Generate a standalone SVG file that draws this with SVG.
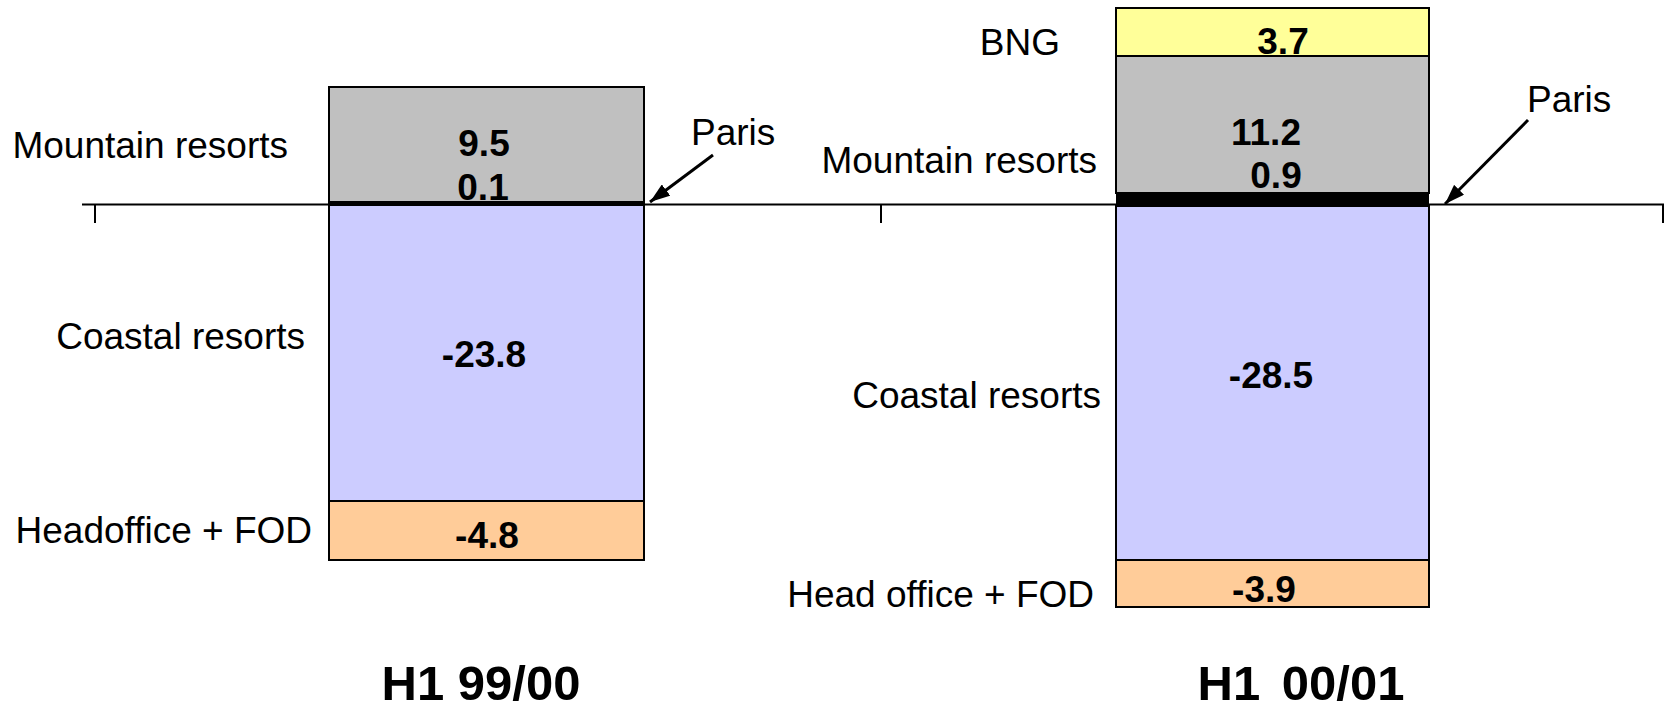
<svg xmlns="http://www.w3.org/2000/svg" width="1665" height="708" viewBox="0 0 1665 708">
<style>
.lbl{font-family:"Liberation Sans",Arial,sans-serif;font-size:37px;fill:#000}
.val{font-family:"Liberation Sans",Arial,sans-serif;font-size:37px;font-weight:bold;fill:#000;text-anchor:middle}
.ttl{font-family:"Liberation Sans",Arial,sans-serif;font-size:49px;font-weight:bold;fill:#000;text-anchor:middle}
.seg{stroke:#000;stroke-width:2}
.axis{stroke:#000;stroke-width:2;fill:none}
.arr{stroke:#000;stroke-width:3}
</style>
<defs>
<marker id="ah" viewBox="0 0 10 10" refX="10" refY="5" markerWidth="20" markerHeight="14" markerUnits="userSpaceOnUse" orient="auto" preserveAspectRatio="none">
<path d="M0,0 L10,5 L0,10 z" fill="#000"/>
</marker>
</defs>
<rect width="1665" height="708" fill="#fff"/>
<g id="axis">
<path class="axis" d="M82,204.5 H1664 M95,204.5 V223 M881,204.5 V223 M1663,204.5 V223"/>
</g>
<g id="bar-h1-9900">
<rect class="seg" x="329" y="87" width="315" height="117" fill="#c0c0c0"/>
<rect x="329" y="201" width="315" height="4" fill="#000"/>
<rect class="seg" x="329" y="205" width="315" height="296" fill="#ccccff"/>
<rect class="seg" x="329" y="501" width="315" height="59" fill="#ffcc99"/>
<text class="val" x="484" y="156">9.5</text>
<text class="val" x="483" y="200">0.1</text>
<text class="val" x="484" y="367">-23.8</text>
<text class="val" x="487" y="548">-4.8</text>
</g>
<g id="bar-h1-0001">
<rect class="seg" x="1116" y="8" width="313" height="48" fill="#ffff99"/>
<rect class="seg" x="1116" y="56" width="313" height="137" fill="#c0c0c0"/>
<rect x="1116" y="193" width="313" height="13" fill="#000"/>
<rect class="seg" x="1116" y="206" width="313" height="354" fill="#ccccff"/>
<rect class="seg" x="1116" y="560" width="313" height="47" fill="#ffcc99"/>
<text class="val" x="1283" y="54">3.7</text>
<text class="val" x="1266" y="145">11.2</text>
<text class="val" x="1276" y="188">0.9</text>
<text class="val" x="1271" y="388">-28.5</text>
<text class="val" x="1264" y="602">-3.9</text>
</g>
<g id="labels-left">
<text class="lbl" x="288" y="158" text-anchor="end">Mountain resorts</text>
<text class="lbl" x="305" y="349" text-anchor="end">Coastal resorts</text>
<text class="lbl" x="312" y="543" text-anchor="end">Headoffice + FOD</text>
<text class="lbl" x="691" y="145">Paris</text>
</g>
<g id="labels-right">
<text class="lbl" x="1060" y="55" text-anchor="end">BNG</text>
<text class="lbl" x="1097" y="173" text-anchor="end">Mountain resorts</text>
<text class="lbl" x="1101" y="408" text-anchor="end">Coastal resorts</text>
<text class="lbl" x="1094" y="607" text-anchor="end">Head office + FOD</text>
<text class="lbl" x="1527" y="112">Paris</text>
</g>
<g id="connectors">
<line class="arr" x1="713" y1="155" x2="650" y2="202" marker-end="url(#ah)"/>
<line class="arr" x1="1528" y1="120" x2="1445" y2="204" marker-end="url(#ah)"/>
</g>
<g id="titles">
<text class="ttl" x="481" y="700">H1 99/00</text>
<text class="ttl" x="1301" y="700" word-spacing="8">H1 00/01</text>
</g>
</svg>
